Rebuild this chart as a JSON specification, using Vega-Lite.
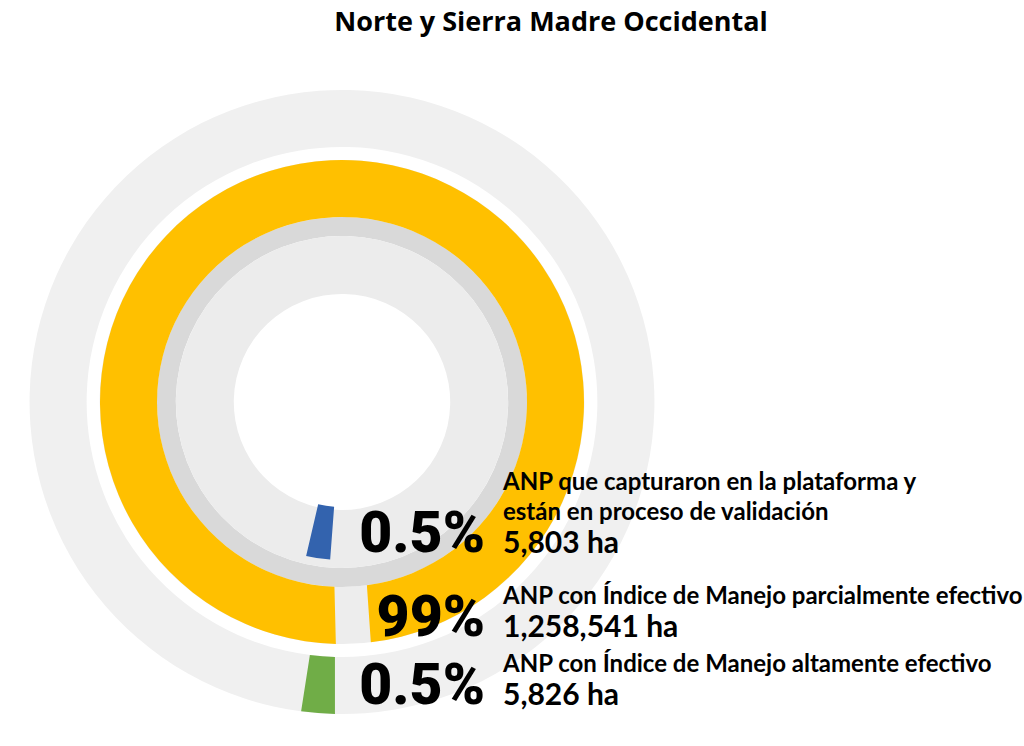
{
  "$schema": "https://vega.github.io/schema/vega-lite/v6.json",
  "width": 684,
  "height": 688,
  "autosize": {"type": "none"},
  "padding": {"left": 0, "top": 58, "right": 340, "bottom": 0},
  "background": "white",
  "config": {"view": {"stroke": null}},
  "title": {
    "text": "Norte y Sierra Madre Occidental",
    "font": "Open Sans",
    "fontSize": 27,
    "fontWeight": "bold",
    "color": "#000000",
    "anchor": "middle",
    "dx": 209,
    "offset": 0,
    "baseline": "alphabetic"
  },
  "data": {
    "values": [
      {"orden": 1, "anillo": "interior", "categoria": "En proceso de validación", "linea1": "ANP que capturaron en la plataforma y", "linea2": "están en proceso de validación", "pct": 0.5, "etiqueta": "0.5%", "ha": 5803, "superficie": "5,803 ha"},
      {"orden": 2, "anillo": "medio", "categoria": "Parcialmente efectivo", "linea1": "", "linea2": "ANP con Índice de Manejo parcialmente efectivo", "pct": 99, "etiqueta": "99%", "ha": 1258541, "superficie": "1,258,541 ha"},
      {"orden": 3, "anillo": "exterior", "categoria": "Altamente efectivo", "linea1": "", "linea2": "ANP con Índice de Manejo altamente efectivo", "pct": 0.5, "etiqueta": "0.5%", "ha": 5826, "superficie": "5,826 ha"}
    ]
  },
  "layer": [
    {
      "transform": [{"filter": "datum.anillo === 'exterior'"}],
      "mark": {"type": "arc", "radius": 312, "radius2": 255, "color": "#f0f0f0"},
      "encoding": {
        "theta": {"datum": 100, "type": "quantitative", "scale": {"type": "pow", "exponent": 0.7, "domain": [0, 100], "range": [3.1666, 9.4498]}},
        "theta2": {"datum": 0}
      }
    },
    {
      "transform": [{"filter": "datum.anillo === 'medio'"}],
      "mark": {"type": "arc", "radius": 242, "radius2": 185, "color": "#ededed"},
      "encoding": {
        "theta": {"datum": 100, "type": "quantitative"},
        "theta2": {"datum": 0}
      }
    },
    {
      "transform": [{"filter": "datum.anillo === 'medio'"}],
      "mark": {"type": "arc", "radius": 185, "radius2": 166, "color": "#d9d9d9"},
      "encoding": {
        "theta": {"datum": 100, "type": "quantitative"},
        "theta2": {"datum": 0}
      }
    },
    {
      "transform": [{"filter": "datum.anillo === 'interior'"}],
      "mark": {"type": "arc", "radius": 166, "radius2": 108, "color": "#ececec"},
      "encoding": {
        "theta": {"datum": 100, "type": "quantitative"},
        "theta2": {"datum": 0}
      }
    },
    {
      "transform": [{"filter": "datum.anillo === 'interior'"}],
      "mark": {"type": "arc", "radius": 158, "radius2": 105, "thetaOffset": 0.05, "theta2Offset": 0.05},
      "encoding": {
        "theta": {"field": "pct", "type": "quantitative", "stack": null},
        "theta2": {"datum": 0},
        "color": {"field": "categoria", "type": "nominal", "legend": null, "scale": {"domain": ["En proceso de validación", "Parcialmente efectivo", "Altamente efectivo"], "range": ["#3363AE", "#FFC000", "#70AD47"]}}
      }
    },
    {
      "transform": [{"filter": "datum.anillo === 'medio'"}],
      "mark": {"type": "arc", "radius": 242, "radius2": 185, "padAngle": 0.08, "thetaOffset": -0.05, "theta2Offset": -0.05},
      "encoding": {
        "theta": {"field": "pct", "type": "quantitative", "stack": null},
        "theta2": {"datum": 0},
        "color": {"field": "categoria", "type": "nominal", "legend": null}
      }
    },
    {
      "transform": [{"filter": "datum.anillo === 'exterior'"}],
      "mark": {"type": "arc", "radius": 312, "radius2": 255, "padAngle": 0.035, "thetaOffset": -0.025, "theta2Offset": -0.025},
      "encoding": {
        "theta": {"field": "pct", "type": "quantitative", "stack": null},
        "theta2": {"datum": 0},
        "color": {"field": "categoria", "type": "nominal", "legend": null}
      }
    },
    {
      "mark": {"type": "text", "align": "right", "baseline": "middle", "font": "Roboto", "fontWeight": 900, "fontSize": 57, "dy": -9, "color": "#000000"},
      "encoding": {
        "x": {"value": 485},
        "y": {"field": "orden", "type": "quantitative", "axis": null, "scale": {"type": "pow", "exponent": 0.6, "domain": [1, 3], "range": [486, 638], "zero": false, "nice": false}},
        "text": {"field": "etiqueta"}
      }
    },
    {
      "mark": {"type": "text", "align": "left", "baseline": "middle", "font": "Lato", "fontWeight": "bold", "fontSize": 24, "dy": -61, "color": "#000000"},
      "encoding": {
        "x": {"value": 503},
        "y": {"field": "orden", "type": "quantitative", "axis": null},
        "text": {"field": "linea1"}
      }
    },
    {
      "mark": {"type": "text", "align": "left", "baseline": "middle", "font": "Lato", "fontWeight": "bold", "fontSize": 24, "dy": -31, "color": "#000000"},
      "encoding": {
        "x": {"value": 503},
        "y": {"field": "orden", "type": "quantitative", "axis": null},
        "text": {"field": "linea2"}
      }
    },
    {
      "mark": {"type": "text", "align": "left", "baseline": "middle", "font": "Lato", "fontWeight": "bold", "fontSize": 30, "color": "#000000"},
      "encoding": {
        "x": {"value": 503},
        "y": {"field": "orden", "type": "quantitative", "axis": null},
        "text": {"field": "superficie"}
      }
    }
  ]
}
